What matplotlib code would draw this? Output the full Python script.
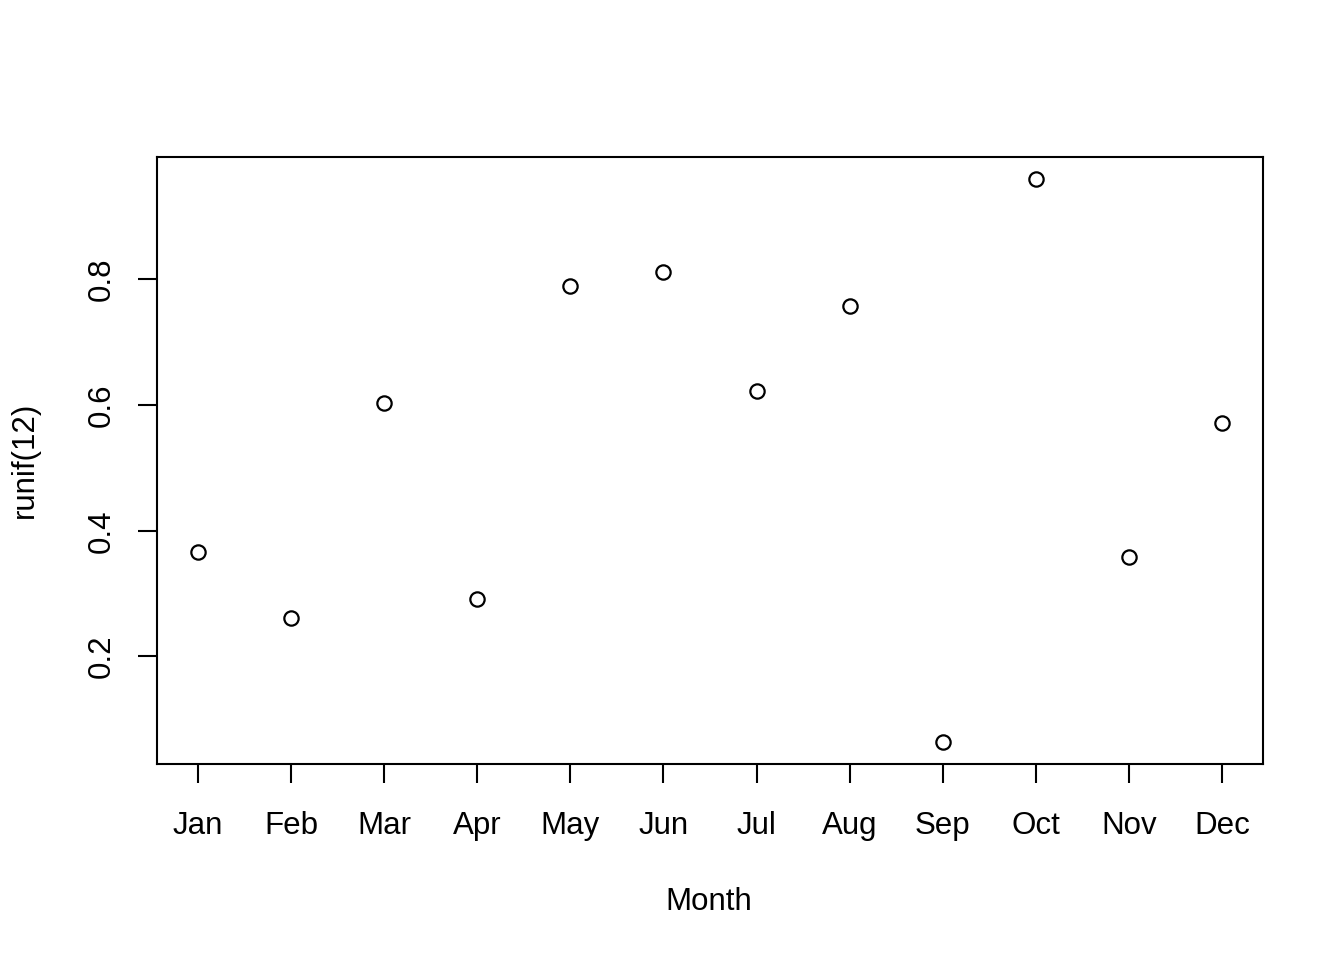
import matplotlib
matplotlib.use("Agg")
import matplotlib.pyplot as plt

months = ["Jan", "Feb", "Mar", "Apr", "May", "Jun", "Jul", "Aug", "Sep", "Oct", "Nov", "Dec"]
values = [0.3655, 0.2605, 0.604, 0.292, 0.790, 0.811, 0.623, 0.757, 0.0647, 0.959, 0.3576, 0.572]
yticks = [0.2, 0.4, 0.6, 0.8]
ytick_labels = ["0.2", "0.4", "0.6", "0.8"]

plt.rcParams['font.family'] = ['Liberation Sans', 'DejaVu Sans']

W, H = 1344, 960
fig = plt.figure(figsize=(W / 100, H / 100), dpi=100)
ax = fig.add_axes([157 / W, 1 - 764 / H, (1263 - 157) / W, (764 - 157) / H])

x = list(range(1, len(months) + 1))
ax.plot(x, values, linestyle='none', marker='o', markersize=10.3,
        markerfacecolor='none', markeredgecolor='black', markeredgewidth=1.6)

n = len(months)
ax.set_xlim(1 - 0.04 * (n - 1), n + 0.04 * (n - 1))
lo, hi = min(values), max(values)
r = hi - lo
ax.set_ylim(lo - 0.04 * r, hi + 0.04 * r)

ax.set_xticks(x)
ax.set_xticklabels(months)
ax.set_yticks(yticks)
ax.set_yticklabels(ytick_labels, rotation=90, va='center')

for s in ax.spines.values():
    s.set_linewidth(1.5)
ax.tick_params(axis='both', direction='out', length=14, width=1.5, labelsize=22.5)
ax.tick_params(axis='x', pad=19.5)
ax.tick_params(axis='y', pad=15)

fig.text(709 / W, 1 - 902 / H, "Month", ha='center', va='center', fontsize=22.5)
fig.text(25 / W, 1 - 460 / H, "runif(12)", ha='center', va='center', fontsize=22.5, rotation=90)

fig.savefig("out.png", dpi=100)
